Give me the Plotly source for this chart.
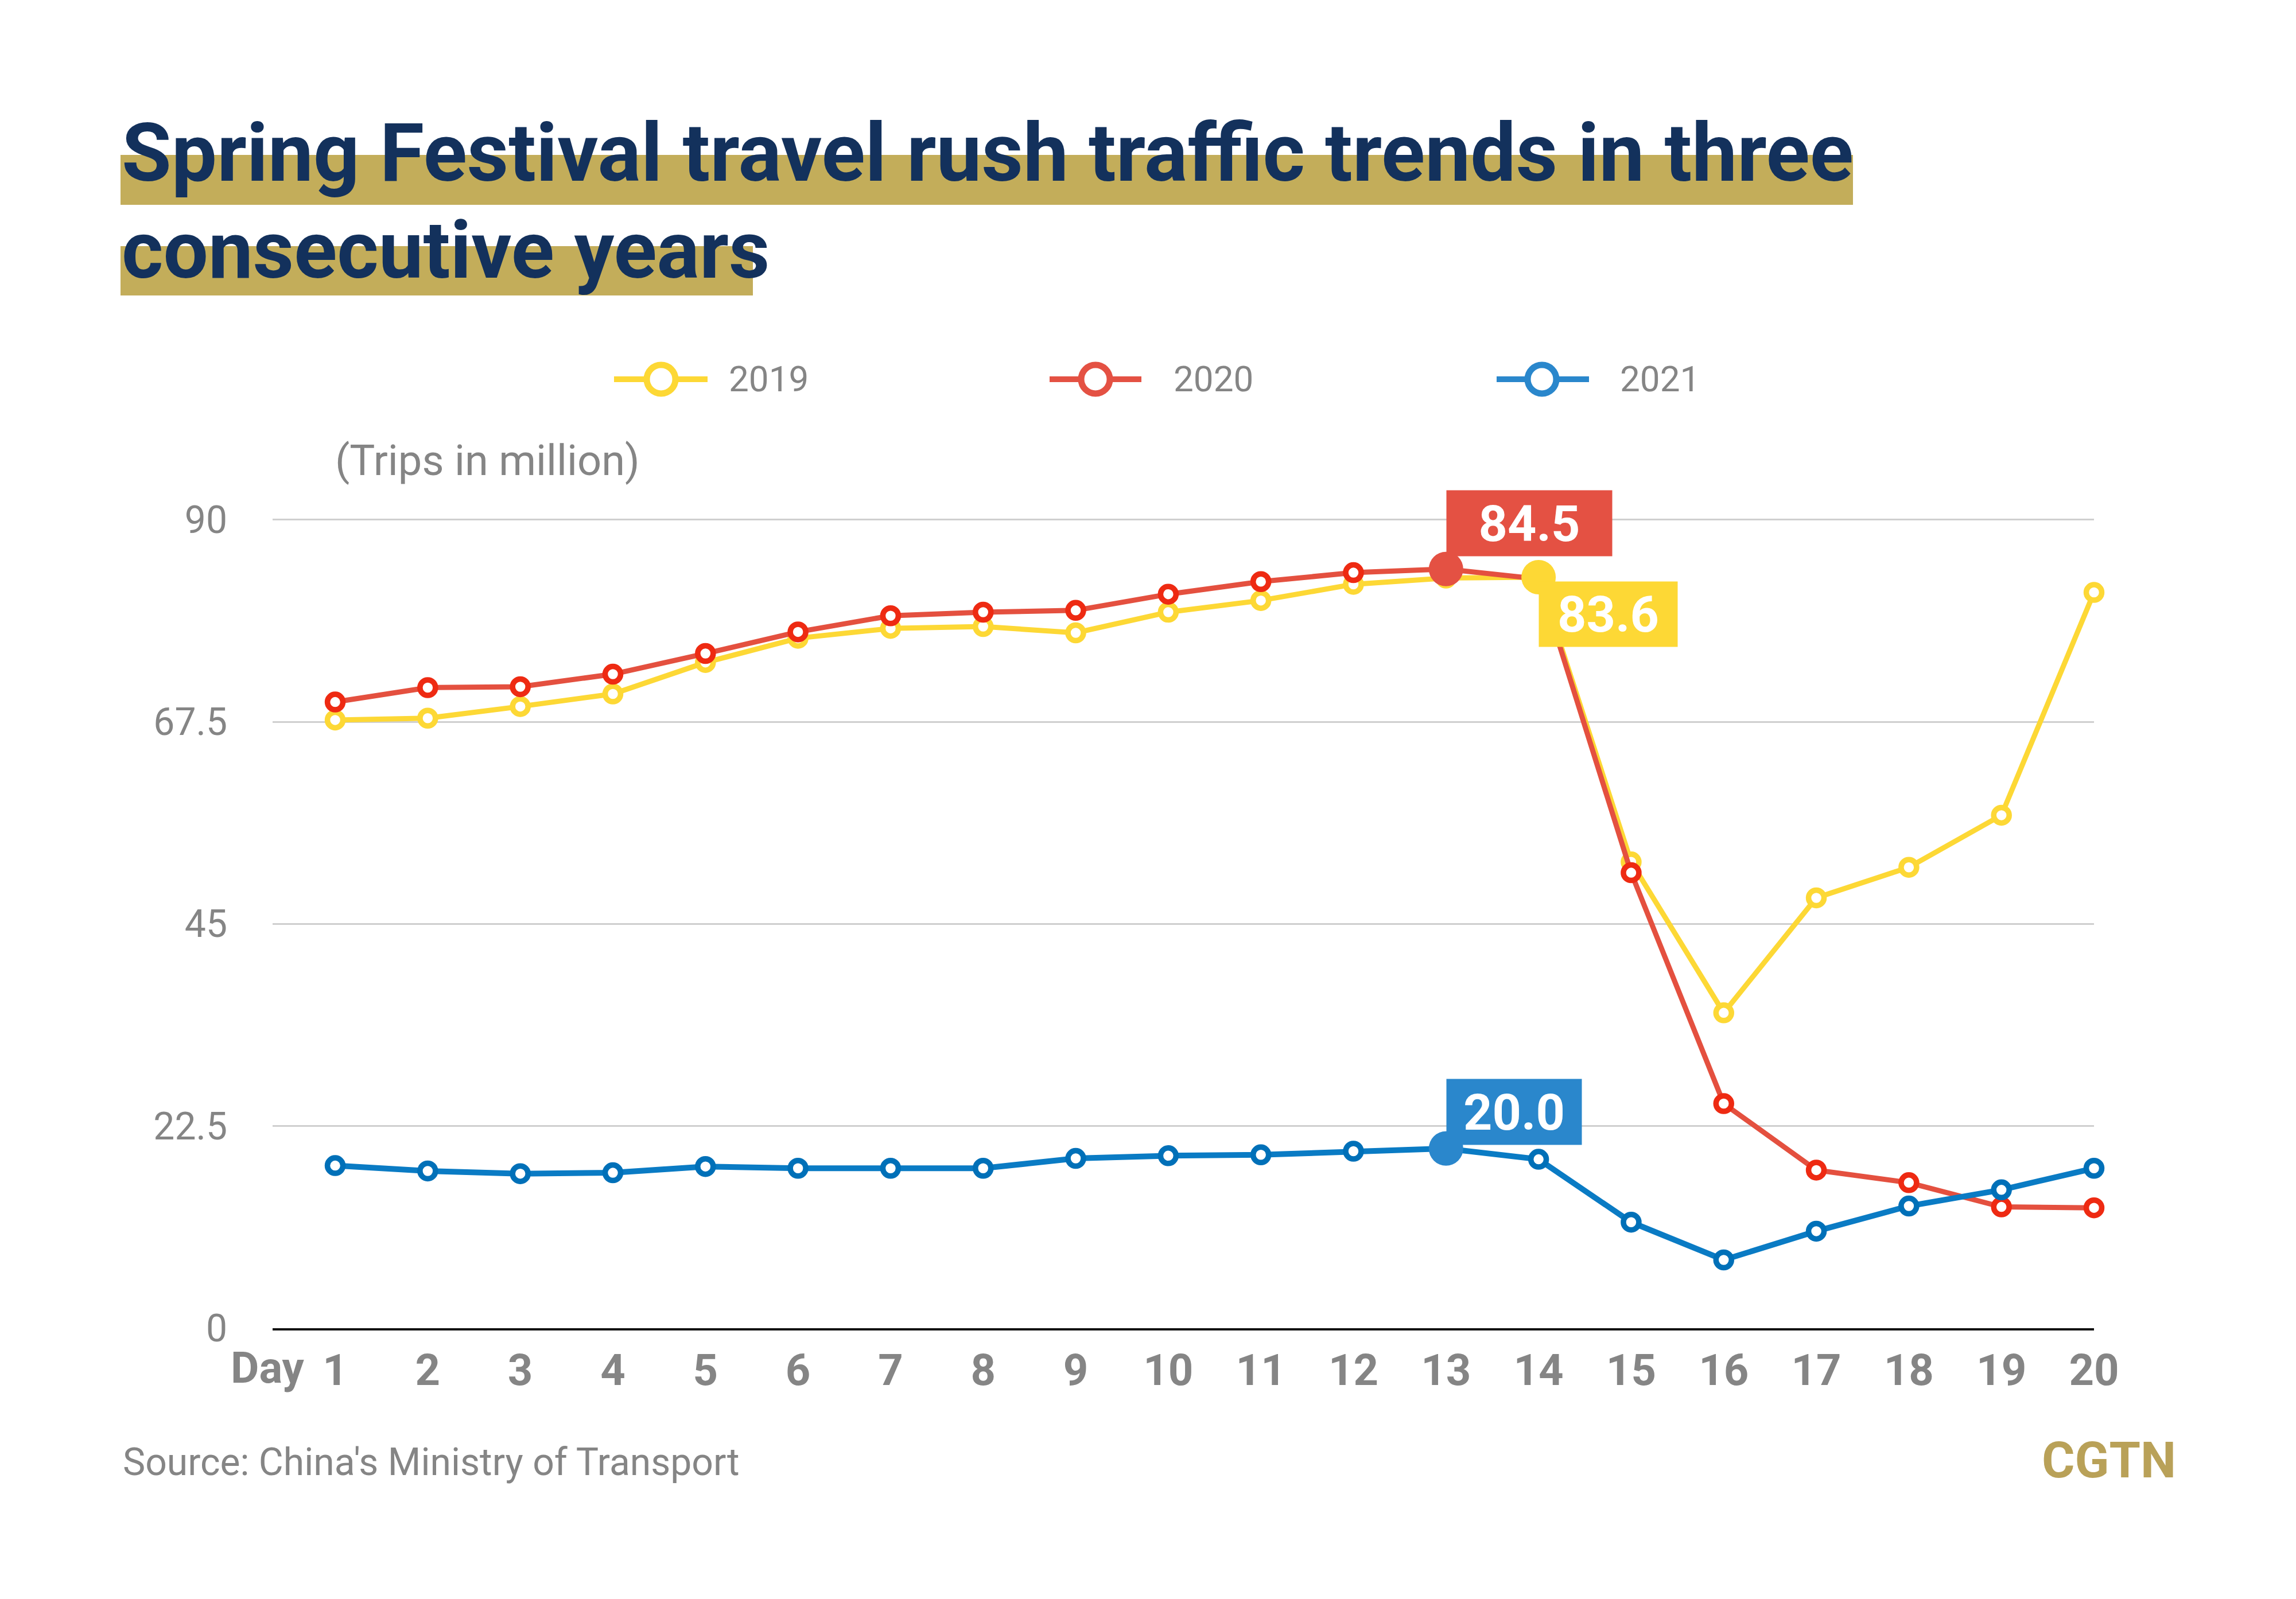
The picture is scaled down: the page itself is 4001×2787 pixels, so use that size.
import plotly.graph_objects as go

# ---------------- data ----------------
days = list(range(1, 21))
day_labels = [str(d) for d in days]
series_names = ["2019", "2020", "2021"]
y2019 = [67.7, 67.9, 69.2, 70.6, 74.1, 76.8, 77.9, 78.1, 77.4, 79.7,
         81.0, 82.8, 83.5, 83.6, 51.9, 35.1, 47.9, 51.3, 57.1, 81.9]
y2020 = [69.7, 71.3, 71.4, 72.8, 75.1, 77.5, 79.3, 79.7, 79.9, 81.7,
         83.1, 84.1, 84.5, 83.4, 50.7, 25.0, 17.6, 16.2, 13.5, 13.4]
y2021 = [18.1, 17.5, 17.2, 17.3, 18.0, 17.8, 17.8, 17.8, 18.9, 19.2,
         19.3, 19.7, 20.0, 18.8, 11.8, 7.6, 10.8, 13.6, 15.4, 17.8]
y_tickvals = [0, 22.5, 45, 67.5, 90]
y_ticktext = ["0", "22.5", "45", "67.5", "90"]
# highlighted points: (series index, day index)
highlights = [(1, 12), (0, 13), (2, 12)]

# ---------------- style ----------------
W, H = 4001, 2787
L, R, T, B = 475, 3649, 901, 2315
YMAX = 90.3
GRAY = "#858585"
NAVY = "#13315c"
GOLD = "#c3ad5a"
line_colors = ["#fdd835", "#e4503f", "#0a7bc4"]
marker_colors = ["#fdd835", "#ee2a12", "#0070b8"]
hi_colors = ["#fdd835", "#e45143", "#2a87cc"]
FONT = "Roboto"


def xp(px):
    return (px - L) / (R - L)


def yp(py):
    return (B - py) / (B - T)


fig = go.Figure()
all_series = [y2019, y2020, y2021]
for i, ys in enumerate(all_series):
    fig.add_trace(go.Scatter(
        x=days, y=ys, mode="lines+markers", name=series_names[i],
        line=dict(color=line_colors[i], width=9 if i < 2 else 10),
        marker=dict(size=27, color="white",
                    line=dict(color=marker_colors[i], width=9.5)),
        cliponaxis=False, showlegend=False,
    ))

for si, di in highlights:
    fig.add_trace(go.Scatter(
        x=[days[di]], y=[all_series[si][di]], mode="markers",
        marker=dict(size=60, color=hi_colors[si], line=dict(width=0)),
        cliponaxis=False, showlegend=False,
    ))

shapes = []
annotations = []

# title highlight bars
shapes.append(dict(type="rect", xref="paper", yref="paper", layer="below",
                   x0=xp(210), x1=xp(3229), y0=yp(357), y1=yp(270),
                   fillcolor=GOLD, line=dict(width=0)))
shapes.append(dict(type="rect", xref="paper", yref="paper", layer="below",
                   x0=xp(210), x1=xp(1312), y0=yp(515), y1=yp(429),
                   fillcolor=GOLD, line=dict(width=0)))
annotations.append(dict(xref="paper", yref="paper", x=xp(210), y=yp(266),
                        xanchor="left", yanchor="middle", showarrow=False,
                        text="<b>Spring Festival travel rush traffic trends in three</b>",
                        font=dict(family=FONT, size=141, color=NAVY)))
annotations.append(dict(xref="paper", yref="paper", x=xp(210), y=yp(436),
                        xanchor="left", yanchor="middle", showarrow=False,
                        text="<b>consecutive years</b>",
                        font=dict(family=FONT, size=139, color=NAVY)))

# custom legend
leg = [(1070, 1233, 1152, 1268), (1829, 1989, 1909, 2043), (2608, 2769, 2687, 2821)]
ly = 661
for i, (x0, x1, cx, tx) in enumerate(leg):
    shapes.append(dict(type="line", xref="paper", yref="paper",
                       x0=xp(x0), x1=xp(x1), y0=yp(ly), y1=yp(ly),
                       line=dict(color=hi_colors[i], width=10)))
    r = 25
    shapes.append(dict(type="circle", xref="paper", yref="paper",
                       x0=xp(cx - r), x1=xp(cx + r), y0=yp(ly + r), y1=yp(ly - r),
                       fillcolor="white", line=dict(color=hi_colors[i], width=11)))
    annotations.append(dict(xref="paper", yref="paper", x=xp(tx), y=yp(ly),
                            xanchor="left", yanchor="middle", showarrow=False,
                            text=series_names[i],
                            font=dict(family=FONT, size=62, color=GRAY)))

# unit label
annotations.append(dict(xref="paper", yref="paper", x=xp(582), y=yp(802),
                        xanchor="left", yanchor="middle", showarrow=False,
                        text="(Trips in million)",
                        font=dict(family=FONT, size=74, color=GRAY)))
# "Day" prefix
annotations.append(dict(xref="paper", yref="paper", x=xp(533), y=yp(2384),
                        xanchor="right", yanchor="middle", showarrow=False,
                        text="<b>Day</b>",
                        font=dict(family=FONT, size=76, color=GRAY)))
# source + logo
annotations.append(dict(xref="paper", yref="paper", x=xp(212), y=yp(2548),
                        xanchor="left", yanchor="middle", showarrow=False,
                        text="Source: China's Ministry of Transport",
                        font=dict(family=FONT, size=66, color=GRAY)))
annotations.append(dict(xref="paper", yref="paper", x=xp(3794), y=yp(2544),
                        xanchor="right", yanchor="middle", showarrow=False,
                        text="<b>CGTN</b>",
                        font=dict(family=FONT, size=88, color="#b9a158")))

# value boxes
box_specs = [  # (series, day idx, width, height, yanchor, yshift)
    (1, 12, 288, 114, "bottom", 22),
    (0, 13, 241, 113, "top", -7),
    (2, 12, 235, 114, "bottom", 6),
]
for si, di, bw, bh, ya, ys in box_specs:
    annotations.append(dict(
        xref="x", yref="y", x=days[di], y=all_series[si][di],
        xanchor="left", yanchor=ya, yshift=ys, showarrow=False,
        text="<b>%.1f</b>" % all_series[si][di],
        width=bw, height=bh, bgcolor=hi_colors[si], borderpad=0,
        align="center", valign="middle",
        font=dict(family=FONT, size=88, color="white")))

fig.update_layout(
    width=W, height=H, autosize=False,
    margin=dict(l=L, r=W - R, t=T, b=H - B, pad=0),
    paper_bgcolor="white", plot_bgcolor="white",
    shapes=shapes, annotations=annotations,
    showlegend=False,
    xaxis=dict(range=[0.324, 20], tickmode="array", tickvals=days,
               ticktext=day_labels, showgrid=False, zeroline=False,
               showline=True, linecolor="#111111", linewidth=4,
               ticks="", ticklabelstandoff=4,
               tickfont=dict(family=FONT, size=76, color=GRAY, weight="bold")),
    yaxis=dict(range=[0, YMAX], tickmode="array", tickvals=y_tickvals,
               ticktext=y_ticktext, showgrid=True, gridcolor="#cfcfcf",
               gridwidth=2.5, zeroline=False, showline=False, ticks="",
               ticklabelstandoff=78,
               tickfont=dict(family=FONT, size=66, color=GRAY)),
)

fig.write_html("out.html")
